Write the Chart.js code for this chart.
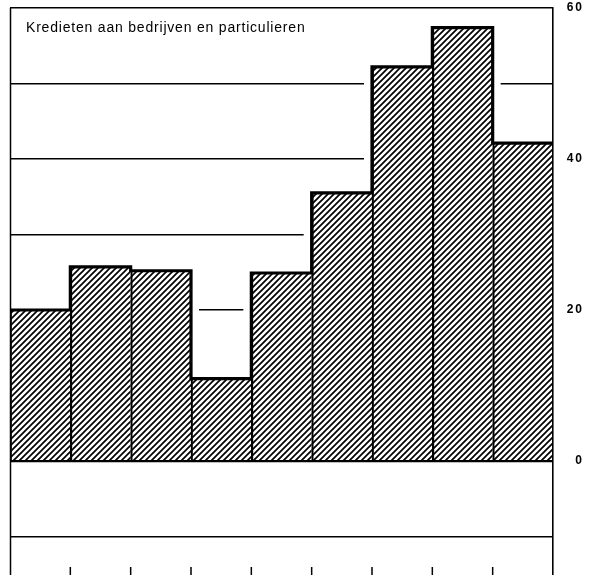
<!DOCTYPE html>
<html>
<head>
<meta charset="utf-8">
<script src="https://cdn.jsdelivr.net/npm/chart.js@4"></script>
<style>
  html, body { margin: 0; padding: 0; background: #fff; }
  canvas { display: block; }
</style>
</head>
<body>
<canvas id="c" width="595" height="575"></canvas>
<script>
// data
const periods = ['1', '2', '3', '4', '5', '6', '7', '8', '9'];
const credits = [20.0, 25.7, 25.2, 10.9, 24.9, 35.5, 52.2, 57.4, 42.1];
const labelledTicks = [0, 20, 40, 60];
const title = 'Kredieten aan bedrijven en particulieren';

// diagonal hatch fill
function hatch() {
  const s = 6;
  const c = document.createElement('canvas');
  c.width = s; c.height = s;
  const g = c.getContext('2d');
  g.strokeStyle = '#000';
  g.lineWidth = 1.7;
  g.beginPath();
  g.moveTo(-1, s + 1); g.lineTo(s + 1, -1);
  g.moveTo(-1, 1); g.lineTo(1, -1);
  g.moveTo(s - 1, s + 1); g.lineTo(s + 1, s - 1);
  g.stroke();
  return g.createPattern(c, 'repeat');
}

const decor = {
  id: 'decor',
  beforeDraw(chart) {
    chart.ctx.letterSpacing = '2px';
  },
  beforeDatasetsDraw(chart) {
    // white gap next to the bars, so grid lines stop short of them
    const ctx = chart.ctx, a = chart.chartArea;
    ctx.save();
    ctx.letterSpacing = '0px';
    ctx.beginPath();
    ctx.rect(a.left + 1, a.top + 2, a.right - a.left - 2, a.bottom - a.top);
    ctx.clip();
    ctx.fillStyle = '#fff';
    chart.getDatasetMeta(0).data.forEach(b => {
      const w = b.width;
      ctx.fillRect(b.x - w / 2 - 8, b.y, w + 16, b.base - b.y - 1.5);
    });
    ctx.restore();
  },
  afterDatasetsDraw(chart) {
    const ctx = chart.ctx, a = chart.chartArea;
    const bars = chart.getDatasetMeta(0).data;
    ctx.save();
    ctx.letterSpacing = '0px';
    // step outline over the bar tops
    ctx.strokeStyle = '#000';
    ctx.lineWidth = 3.2;
    ctx.lineJoin = 'miter';
    ctx.beginPath();
    bars.forEach((b, i) => {
      const l = b.x - b.width / 2, r = b.x + b.width / 2;
      if (i === 0) ctx.moveTo(l, b.y); else ctx.lineTo(l, b.y);
      ctx.lineTo(r, b.y);
    });
    ctx.stroke();
    // left frame
    ctx.lineWidth = 1.5;
    ctx.beginPath();
    ctx.moveTo(a.left + 0.5, a.top);
    ctx.lineTo(a.left + 0.5, chart.height);
    ctx.stroke();
    // small marks at the bottom between periods
    ctx.beginPath();
    bars.forEach((b, i) => {
      if (i === 0) return;
      const x = b.x - b.width / 2;
      ctx.moveTo(x, chart.height - 8);
      ctx.lineTo(x, chart.height);
    });
    ctx.stroke();
    // title
    ctx.fillStyle = '#000';
    ctx.font = '14px "Liberation Sans", Arial, sans-serif';
    ctx.letterSpacing = '0.8px';
    ctx.textAlign = 'left';
    ctx.textBaseline = 'alphabetic';
    ctx.fillText(title, 26, 32);
    ctx.restore();
  }
};

new Chart(document.getElementById('c'), {
  type: 'bar',
  data: {
    labels: periods,
    datasets: [{
      data: credits,
      backgroundColor: hatch(),
      borderColor: '#000',
      borderWidth: { left: 1.5, top: 0, right: 0, bottom: 0 },
      borderSkipped: false,
      barPercentage: 1,
      categoryPercentage: 1
    }]
  },
  options: {
    responsive: false,
    animation: false,
    layout: { padding: { left: 10, top: 8, right: 11, bottom: 0 } },
    plugins: { legend: { display: false }, tooltip: { enabled: false } },
    scales: {
      x: { display: false },
      y: {
        position: 'right',
        min: -15.1,
        max: 60,
        afterFit: s => { s.width = 31; s.paddingBottom = 0; s.paddingTop = 0; },
        grid: {
          color: '#000',
          lineWidth: c => (c.tick && c.tick.value === 0 ? 2.2 : 1.4),
          drawTicks: false
        },
        border: { display: true, color: '#000', width: 1.6 },
        ticks: {
          stepSize: 10,
          includeBounds: false,
          crossAlign: 'far',
          color: '#000',
          font: { family: '"Liberation Sans", Arial, sans-serif', size: 12, weight: 'bold' },
          callback: v => (labelledTicks.includes(v) ? String(v) : '')
        }
      }
    }
  },
  plugins: [decor]
});
</script>
</body>
</html>
